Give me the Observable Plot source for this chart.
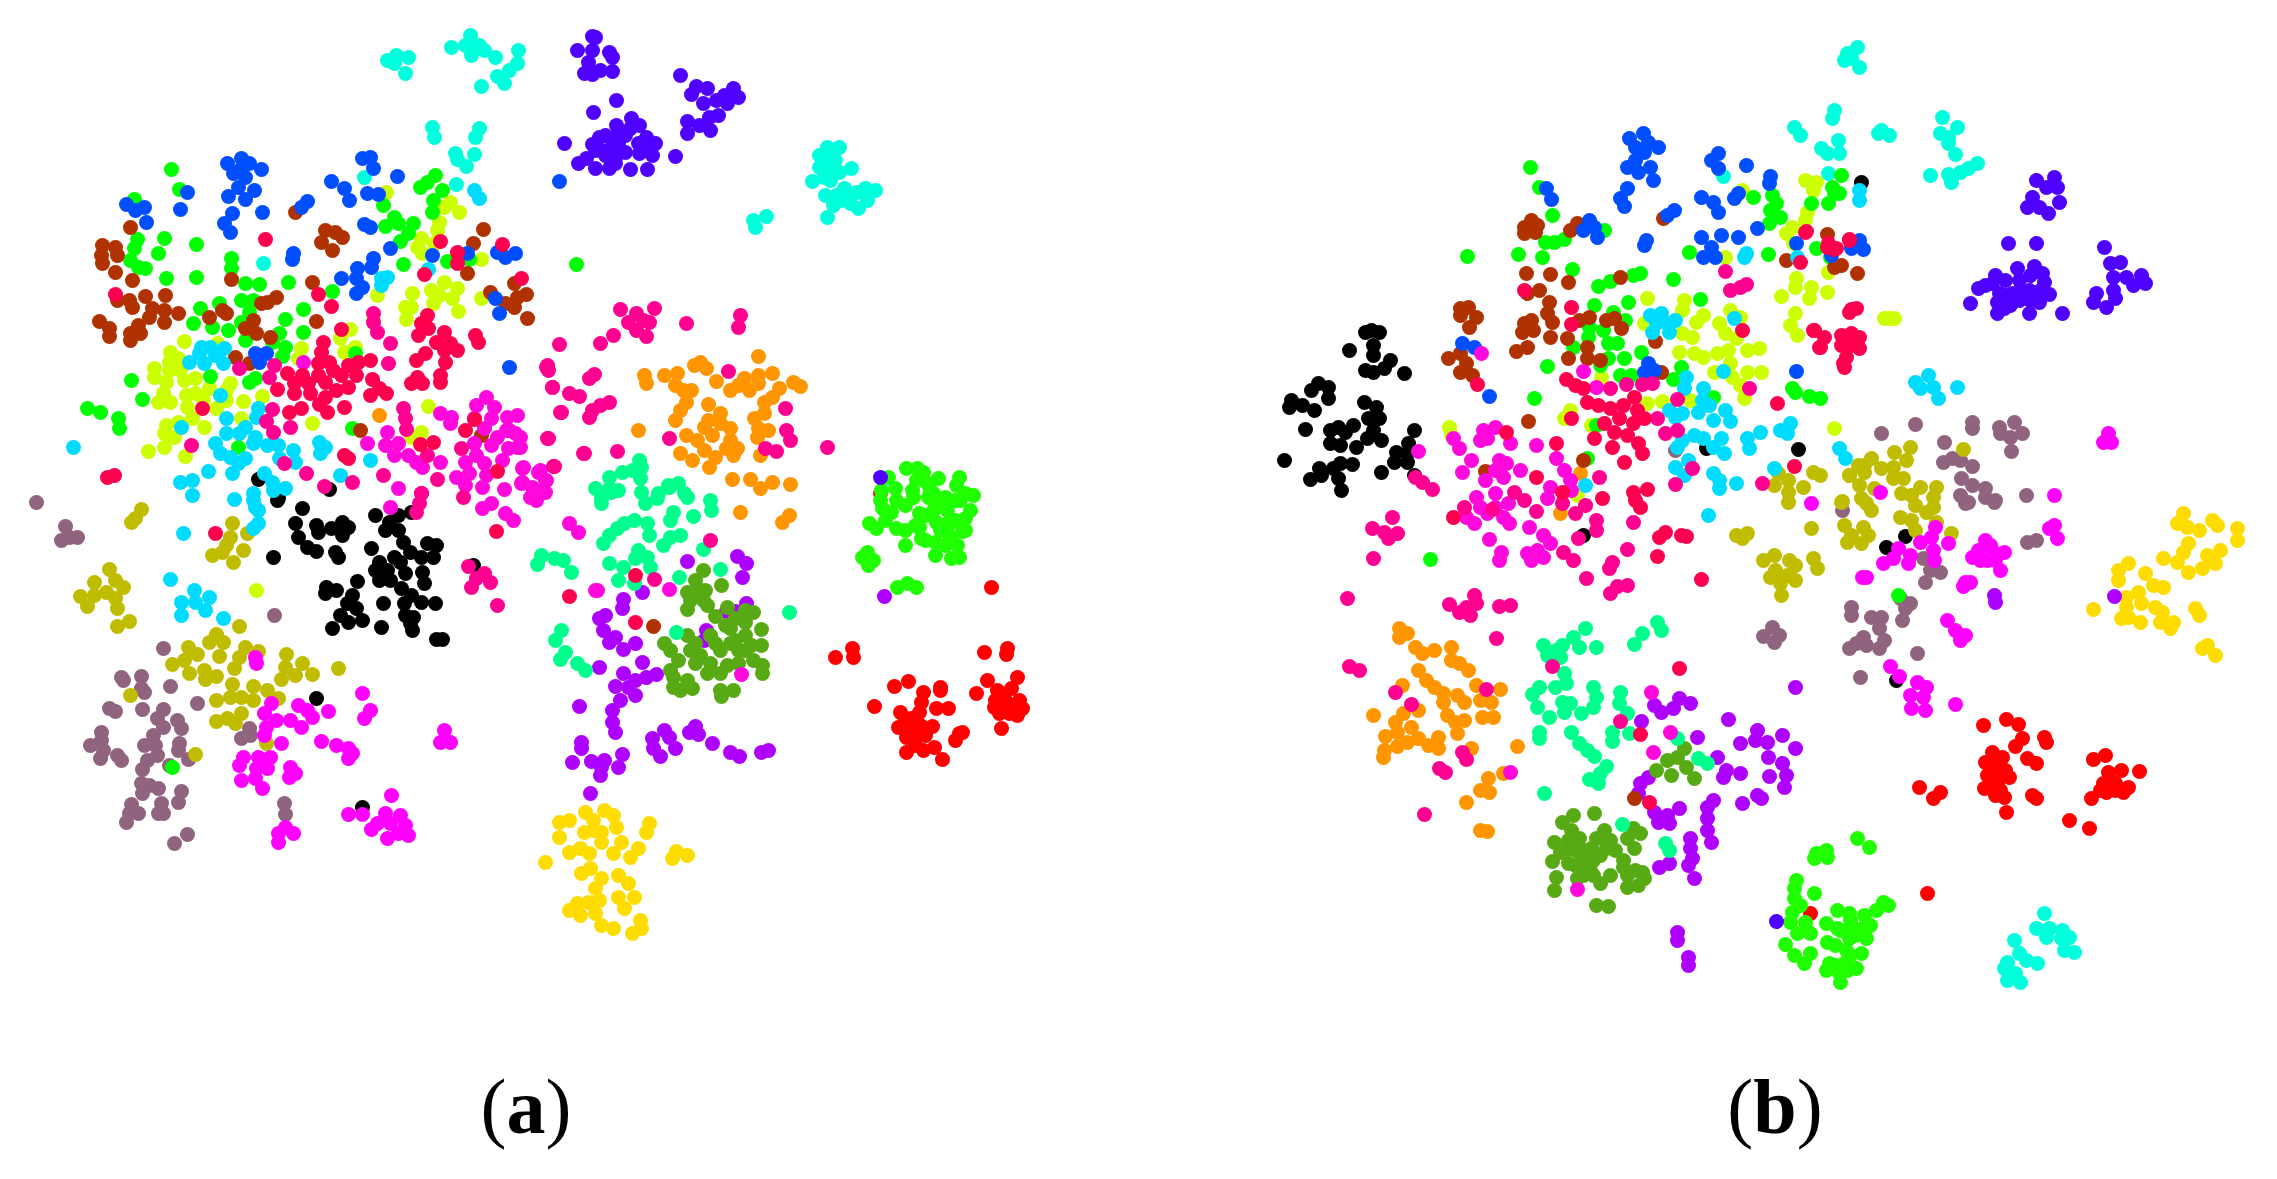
<!DOCTYPE html>
<html><head><meta charset="utf-8">
<script src="https://cdn.jsdelivr.net/npm/d3@7"></script>
<script src="https://cdn.jsdelivr.net/npm/@observablehq/plot@0.6"></script>
<style>
html,body{margin:0;padding:0;background:#fff;width:2277px;height:1179px;overflow:hidden}
#chart{position:absolute;left:0;top:0}
#cap{position:absolute;left:0;top:1050px;width:2277px;height:129px;font-family:"Liberation Serif",serif;font-size:78px;color:#000}
#cap span{position:absolute;top:13px;transform:translateX(-50%);line-height:88px}
</style></head><body><div id="chart"></div><div id="cap"></div>
<script>
const panelLabels = [["a",526],["b",1775]];

// t-SNE embedding values, listed x,y,x,y,... per class
const aBlack=[258,479,329,489,278,498,277,500,302,508,295,523,298,537,307,547,316,551,316,525,318,532,331,528,342,522,348,527,342,535,335,552,338,557,273,557,375,515,398,515,389,522,385,530,398,530,411,512,403,542,371,548,427,543,436,545,410,552,421,557,433,557,394,557,379,562,400,562,375,570,387,570,379,580,390,580,405,573,422,572,424,583,357,581,326,587,325,593,336,590,352,595,347,603,356,608,401,588,411,595,404,603,383,603,421,602,435,603,405,615,413,617,410,623,412,630,340,615,348,622,362,620,332,628,381,627,436,639,442,639,316,698,362,807,473,565];
const aMauve=[36,502,65,526,61,540,77,537,69,537,274,615,163,648,121,677,123,680,141,676,141,688,170,686,144,692,197,703,109,708,115,711,142,709,163,709,157,718,163,727,177,720,181,728,101,732,101,740,90,745,103,750,100,758,117,755,121,760,153,735,144,745,155,745,179,743,178,750,157,755,147,760,142,769,169,765,188,759,249,728,241,738,250,735,141,783,149,785,158,788,142,793,181,791,178,802,161,803,158,813,163,813,131,804,138,813,129,813,126,822,284,803,285,814,187,834,174,843];
const aOlive=[141,509,135,518,131,522,232,523,247,533,230,537,226,545,243,550,212,555,222,552,233,562,109,569,94,582,115,580,123,587,80,596,94,595,106,592,115,598,87,606,117,608,129,621,117,626,239,626,216,634,209,642,223,642,219,656,188,647,197,654,184,660,172,664,245,647,239,657,234,668,258,651,286,654,285,667,302,663,295,675,281,679,312,674,338,668,189,673,204,670,216,676,205,679,232,684,253,686,253,700,216,700,230,697,241,697,267,690,278,698,241,713,227,718,216,721,235,723,130,695,266,743,195,754];
const aMagenta2=[255,657,256,663,271,703,264,713,276,720,266,727,290,720,301,727,264,735,281,743,298,705,307,710,312,717,328,711,362,693,370,710,364,718,321,741,336,745,348,748,352,753,348,758,444,730,440,742,450,742,243,757,258,757,270,757,239,765,256,768,267,768,241,780,255,778,262,788,290,767,295,773,289,777,391,795,348,814,362,814,385,813,400,815,377,823,390,823,405,825,371,829,387,838,398,833,408,835,285,827,278,833,293,833,278,842];
const aRed=[880,493,991,587,852,648,853,657,835,657,984,652,1007,648,1006,654,894,686,908,681,940,687,940,690,923,692,921,702,874,706,900,712,919,712,936,708,948,708,911,718,898,727,908,728,932,726,915,737,906,737,925,735,906,752,923,750,934,747,942,759,959,733,955,740,962,732,987,680,976,693,1017,677,997,690,1011,688,994,707,1005,700,1019,700,1022,708,1009,713,1017,715,1001,728,999,713,910,725,905,720,920,725,915,745,1000,695,1010,705,995,700];
const aLime=[888,477,906,468,917,468,923,472,916,480,938,478,959,477,973,495,927,483,956,485,881,490,895,488,912,490,933,493,965,493,882,508,896,500,913,497,928,497,945,497,960,500,891,512,919,513,933,510,947,510,965,518,869,523,876,528,896,528,919,527,936,522,947,523,962,531,921,538,935,542,950,537,957,545,951,558,959,557,867,552,862,557,873,560,868,565,897,587,907,583,916,587,905,505,915,525,930,490,940,505,955,500,905,530,925,540,940,530,955,520,970,510,885,520,905,545,925,515,945,545,935,555,948,525,965,530,880,500];
const aGold=[559,822,569,820,559,837,585,812,604,810,613,815,593,820,584,832,616,827,601,832,593,830,649,823,646,832,601,842,621,842,569,852,580,848,589,853,613,853,630,857,638,848,545,862,676,851,687,855,672,858,581,873,590,868,601,878,618,875,595,888,628,883,618,897,634,897,599,900,588,902,624,908,577,903,569,910,580,915,595,913,601,925,613,928,640,920,632,933,641,928];
const aIndigo=[592,36,595,37,577,50,592,50,609,52,612,57,588,62,584,73,600,70,612,71,592,74,680,75,696,86,691,94,707,88,733,88,738,97,724,95,703,103,716,100,727,103,718,115,709,117,687,121,687,133,699,125,710,130,616,100,593,112,564,143,631,118,616,125,639,125,599,137,592,144,615,137,630,128,646,137,655,143,611,147,618,143,638,143,601,150,652,155,639,153,625,152,615,157,578,163,586,158,595,168,609,168,615,163,630,169,647,169,675,156,880,477,605,135,612,140,625,135,595,150,605,155,645,150];
const aPurple=[687,561,737,556,746,563,742,577,642,592,623,599,622,608,605,615,599,618,603,630,746,603,735,611,726,611,706,630,704,640,615,637,609,642,623,649,635,643,642,662,656,674,599,667,623,673,646,677,635,680,615,686,628,687,635,695,620,700,579,706,612,710,612,722,615,732,581,742,581,748,572,762,591,761,604,760,600,775,601,767,622,754,618,767,590,793,664,730,669,737,675,748,652,738,653,748,660,756,695,726,689,732,698,734,712,743,730,752,739,756,761,752,768,750,884,596];
const aMoss=[703,570,695,580,687,592,705,590,721,585,687,609,707,605,715,616,727,607,745,610,753,612,735,618,745,622,761,629,730,628,710,635,745,635,687,635,664,643,670,650,695,643,715,643,730,643,761,645,751,645,738,650,678,660,695,663,710,663,727,665,738,663,753,660,762,665,762,673,673,677,707,673,720,673,687,680,673,687,692,688,680,690,720,690,733,690,721,696,703,600,690,600,700,590,735,640,690,650,720,650,700,655,670,670,725,625,745,650];
const aOrange=[379,415,758,356,700,362,706,368,694,365,644,375,646,383,664,375,677,373,675,385,716,381,772,373,744,378,758,375,793,382,800,386,730,390,738,385,749,390,758,383,779,388,772,397,683,390,691,390,686,402,708,404,764,402,680,410,675,420,764,413,754,418,720,413,708,420,704,427,720,423,758,428,768,430,638,430,730,428,712,435,686,435,697,440,730,440,757,437,726,448,737,448,704,450,680,453,715,457,692,460,733,455,760,455,709,467,732,479,750,479,790,484,772,482,760,488,740,512,789,515,782,522];
const aSpring=[639,460,632,470,641,467,622,472,640,478,609,477,595,488,609,488,618,490,601,498,668,485,678,483,684,493,641,492,658,493,710,500,611,492,601,503,645,503,657,498,669,487,687,497,711,510,673,512,693,516,670,520,634,520,624,523,647,523,649,535,617,528,609,535,603,543,680,535,670,537,663,545,638,550,647,557,635,558,650,567,609,563,623,567,618,580,634,583,703,549,720,569,679,577,541,555,537,564,554,558,563,560,571,572,789,612,561,630,555,640,565,652,560,659,577,663,585,670,676,632];
const aAqua=[387,60,396,55,408,57,394,63,405,73,451,47,470,35,465,45,479,45,471,55,484,50,495,57,518,50,517,63,509,70,497,76,504,83,481,86,432,127,434,137,479,128,475,137,455,153,457,159,474,154,466,166,456,184,364,177,263,263,827,147,839,147,819,155,831,157,819,167,831,168,839,172,851,168,812,181,824,177,825,195,836,195,844,188,856,192,865,188,875,190,850,203,858,208,867,200,827,217,833,205,753,220,755,227,766,216,825,160,835,160,830,180,850,195,840,200];
const aYellow=[386,192,450,202,459,212,444,207,439,222,437,230,421,238,417,247,434,243,422,253,481,259,377,295,412,293,444,282,431,290,439,295,411,307,433,303,457,288,452,298,481,298,458,311,405,307,406,319,373,320,350,329,340,338,301,348,298,358,355,347,344,352,184,341,217,343,170,352,178,358,169,362,154,368,154,377,169,370,180,370,166,382,184,380,195,378,230,383,226,390,209,388,195,393,186,395,163,393,158,402,170,402,187,407,203,400,216,408,226,400,243,401,262,396,241,418,312,423,166,425,178,422,192,418,204,427,164,433,174,437,164,447,148,451,185,456,428,406,421,432,411,437,256,590];
const aGreen=[171,169,179,189,134,199,137,239,134,248,130,260,138,267,145,268,164,238,158,253,196,244,231,258,231,268,166,278,196,277,245,283,259,284,288,282,332,291,219,303,200,308,241,300,253,300,249,312,303,309,285,319,193,323,212,327,228,330,241,322,303,332,245,340,279,333,272,342,285,347,282,356,210,376,249,382,255,378,131,380,142,399,87,408,100,412,118,418,119,428,352,428,355,353,238,447,420,187,435,175,427,182,442,190,433,200,432,212,383,205,394,217,385,226,398,223,413,223,408,233,400,241,403,264,447,261,469,259,576,264,172,767];
const aBrown=[295,212,130,227,102,245,115,247,101,255,117,255,102,263,115,272,132,280,335,232,325,230,342,237,321,242,332,250,483,229,473,243,467,273,312,282,231,279,165,295,129,300,117,300,132,307,145,296,152,308,164,310,178,313,164,322,149,317,138,325,99,321,109,328,109,336,130,333,130,340,140,333,267,302,276,297,261,303,222,310,226,313,209,317,316,321,253,320,245,328,256,333,270,337,514,283,526,294,490,292,517,297,505,303,514,307,527,318,235,357,249,363,481,435,360,430,653,626];
const aBlue=[241,158,227,163,261,169,239,170,249,163,233,173,245,177,238,187,254,190,228,196,245,199,232,213,224,223,230,232,262,212,187,192,180,209,126,204,144,207,135,210,146,222,370,157,362,158,373,168,397,176,331,181,344,188,349,200,367,193,378,194,307,201,301,207,364,224,370,227,390,248,293,253,292,259,373,258,371,267,357,268,341,278,356,278,356,293,362,287,432,255,467,253,497,252,505,257,515,253,495,298,499,313,255,353,266,353,259,362,509,367,559,181];
const aCyan=[428,269,381,278,387,277,381,285,474,190,479,198,201,347,210,347,224,348,199,353,215,355,189,362,204,363,223,363,220,395,258,408,256,417,226,418,181,427,245,427,226,433,239,433,255,437,253,443,267,445,278,445,319,442,325,447,320,453,215,443,220,453,230,457,245,458,238,463,232,473,293,450,279,458,295,462,370,460,73,447,208,471,264,473,272,482,285,488,273,490,340,475,180,482,192,480,192,495,253,493,234,499,255,507,258,523,253,500,258,510,253,528,183,533,170,579,194,590,181,602,195,602,209,597,205,610,181,615,223,618];
const aMagenta1=[303,362,486,397,476,405,494,407,474,418,491,418,484,428,440,413,451,417,450,423,517,415,509,430,520,437,497,437,491,445,517,447,387,432,385,445,398,443,394,455,408,455,416,462,422,467,367,443,440,462,474,443,476,455,465,462,484,463,502,460,456,477,469,473,486,475,465,485,482,487,504,489,522,468,540,470,545,480,522,482,534,490,545,492,530,497,536,500,398,488,507,417,506,430,515,433,520,447,508,448,523,467,538,472,521,483,532,487,546,480,542,492,532,497,390,507,482,508,491,503,505,513,513,520,569,523,578,532,597,590,595,590,669,589,741,674];
const aRose=[274,365,239,368,269,377,272,409,266,421,273,432,290,427,191,445,373,313,373,322,377,332,390,343,388,363,403,408,405,418,406,429,427,455,461,448,284,463,306,473,324,486,352,482,383,475,437,479,421,493,463,497,547,438,553,466,583,453,560,412,552,387,546,367,559,344,620,309,636,313,654,308,643,320,628,322,649,322,636,330,646,336,613,335,600,343,686,323,740,315,738,327,547,365,548,370,594,374,589,378,552,387,569,393,579,396,609,402,600,405,592,410,589,417,561,412,548,438,584,453,617,451,669,438,728,371,785,408,786,430,790,440,765,448,776,451,827,447,554,466,421,493,419,503,416,512,468,566,484,573,490,582,471,587,497,605,476,578,710,540,654,579];
const aCrimson=[265,239,440,241,457,252,457,263,502,244,424,274,521,278,318,294,331,306,115,294,341,329,427,315,421,323,428,328,418,335,475,335,478,342,444,332,436,342,450,343,457,350,444,350,425,353,416,360,445,362,440,375,440,382,417,377,411,383,422,383,323,342,321,352,329,362,318,363,370,360,358,362,348,365,287,373,302,375,318,375,333,370,341,375,356,375,372,379,294,383,308,383,325,382,348,387,336,390,277,389,294,393,310,393,325,397,379,388,370,395,386,393,319,404,344,407,301,408,289,412,327,412,202,408,474,419,465,430,433,442,420,444,344,455,348,458,107,477,114,475,497,471,215,533,496,531,569,596,635,575,635,622];

const bBlack=[1371,330,1365,332,1379,332,1349,350,1373,345,1373,355,1390,360,1384,368,1373,372,1365,370,1404,373,1318,383,1311,390,1328,387,1328,398,1291,400,1289,407,1302,405,1314,410,1364,402,1376,407,1379,418,1368,418,1353,425,1338,427,1330,430,1305,429,1345,432,1373,430,1414,430,1330,443,1340,445,1367,438,1381,440,1356,447,1408,443,1396,452,1407,453,1394,462,1407,462,1284,460,1352,464,1340,463,1319,468,1333,468,1381,472,1310,479,1321,475,1338,478,1341,490,1414,475,1706,448,1798,449,1583,535,1861,182,1905,536,1886,547,1896,680];
const bMauve=[1881,433,1915,424,1972,422,1972,428,1999,427,2014,422,2000,433,2022,433,2010,437,2011,451,1944,442,1943,462,1952,458,1960,460,1972,466,1961,478,1972,485,1960,495,1968,502,1985,488,1985,497,1995,500,2026,495,1842,510,1772,627,1763,636,1779,635,1774,642,1851,607,1851,615,1871,617,1881,617,1879,628,1863,637,1856,643,1849,648,1866,645,1884,640,1879,648,1900,598,1910,603,1905,608,1902,620,1917,653,1860,677,1923,558,1930,570,1940,572,1925,582,2036,540,2027,542,1965,503,1994,502,1675,450];
const bOlive=[1778,473,1774,485,1788,480,1788,492,1788,502,1813,472,1820,475,1803,487,1841,502,1849,475,1864,465,1871,458,1858,465,1849,475,1859,485,1864,472,1894,452,1910,447,1906,460,1881,468,1893,467,1893,478,1903,478,1874,488,1861,498,1871,510,1866,503,1901,493,1920,487,1936,487,1911,495,1933,497,1915,505,1933,507,1926,512,1842,501,1963,449,1900,517,1911,520,1811,528,1844,525,1863,527,1851,535,1868,535,1847,542,1861,543,1936,522,1951,533,1915,530,1774,555,1763,560,1789,560,1795,565,1775,570,1787,575,1770,577,1795,580,1780,583,1781,595,1813,558,1817,568,1736,535,1747,533,1742,538];
const bMagenta2=[1880,492,2054,495,1811,503,1935,527,1931,537,1920,542,1948,543,1898,548,1933,550,1910,555,1893,558,1883,563,1908,563,1934,560,1985,540,1978,550,1972,557,1992,550,2004,552,1987,560,2000,570,2054,525,2049,528,2057,538,1862,577,1866,577,1965,582,1970,582,1963,586,1947,620,1955,630,1965,635,1960,640,1890,666,1899,676,1917,682,1926,687,1910,695,1923,697,1911,708,1925,710,1955,704,2108,433,2103,442,2111,442,1990,545,1980,560,1995,560];
const bRed=[1810,913,1927,893,1919,787,1940,792,1933,798,1983,725,2006,719,2018,724,2022,738,2015,746,2044,737,2046,742,1992,752,2002,757,1985,762,1999,763,2027,758,2036,763,1987,775,2009,777,1997,773,1984,788,1997,783,1995,795,2004,797,2032,795,2036,798,2006,812,2069,820,2089,828,2093,759,2105,755,2121,770,2108,772,2139,771,2103,783,2115,783,2128,787,2091,798,2106,792,2123,792,1995,765,2005,770,1990,785,2000,790,2110,780,2115,790,2100,790];
const bLime=[1816,853,1826,850,1814,858,1827,857,1857,838,1869,847,1796,880,1794,888,1814,893,1794,898,1792,912,1790,922,1797,933,1805,922,1810,933,1826,923,1837,910,1849,913,1864,915,1876,910,1883,902,1888,905,1837,928,1851,925,1864,927,1866,938,1849,938,1827,942,1785,944,1810,953,1794,955,1804,963,1846,950,1861,953,1829,963,1844,963,1826,970,1856,968,1839,973,1840,982,1847,970,1850,955,1855,935,1840,930,1870,925,1835,945,1850,920,1835,965,1800,905];
const bGold=[2183,513,2177,523,2187,527,2199,530,2212,520,2217,525,2237,528,2237,540,2188,543,2183,552,2163,558,2177,562,2188,572,2202,568,2207,555,2220,550,2215,563,2118,570,2128,563,2118,580,2145,573,2153,585,2163,587,2138,592,2093,609,2126,597,2126,607,2141,603,2155,607,2162,612,2121,618,2140,622,2128,617,2160,622,2173,622,2170,628,2195,608,2199,615,2207,645,2202,648,2215,655];
const bIndigo=[2036,180,2054,177,2046,187,2057,187,2032,197,2027,207,2059,202,2039,207,2048,213,2008,243,2036,243,2104,247,1995,275,2017,268,2034,266,2042,273,1978,288,1992,283,2005,280,2019,280,2044,282,1999,293,2012,293,2029,290,2049,294,1997,302,2019,300,2039,302,1970,303,1997,313,2004,308,2029,313,2062,313,2110,263,2120,262,2113,277,2126,277,2141,275,2145,283,2133,285,2113,290,2096,293,2093,302,2106,307,2115,298,1776,921,2005,295,2020,290,2040,290,2010,305,2030,300,1985,285,2030,275];
const bPurple=[1654,705,1661,712,1679,698,1673,708,1690,703,1641,721,1728,719,1795,687,1697,737,1717,757,1757,730,1740,743,1755,740,1767,742,1782,735,1795,748,1768,757,1782,763,1769,776,1786,775,1784,787,1726,770,1723,777,1740,773,1757,795,1742,803,1761,798,1648,777,1640,783,1638,793,1713,800,1707,807,1679,808,1654,812,1667,815,1658,822,1669,823,1707,818,1707,830,1690,838,1711,842,1690,848,1692,858,1669,863,1659,867,1688,865,1694,878,1677,932,1677,940,1688,957,1688,965,1994,595,1995,602,2114,596];
const bMoss=[1684,748,1677,757,1667,760,1656,770,1671,775,1686,767,1694,778,1594,813,1573,815,1562,822,1571,830,1633,828,1640,833,1604,830,1596,838,1554,842,1568,840,1579,838,1610,840,1627,838,1634,848,1560,852,1575,850,1591,848,1606,848,1552,861,1568,863,1583,860,1593,860,1623,860,1623,867,1583,875,1593,875,1600,883,1610,875,1642,872,1627,875,1644,878,1627,887,1638,885,1556,877,1554,890,1577,878,1596,905,1608,906,1585,850,1600,855,1575,865,1590,870,1615,850,1565,850,1635,870];
const bOrange=[1399,628,1407,633,1399,637,1415,647,1422,653,1434,650,1451,647,1451,660,1459,663,1468,670,1418,670,1426,680,1434,687,1402,685,1443,693,1457,695,1476,685,1443,702,1464,702,1480,700,1491,702,1500,689,1482,717,1493,717,1447,715,1464,720,1455,722,1457,733,1418,710,1403,713,1395,722,1411,727,1397,732,1373,715,1385,736,1418,738,1407,742,1397,746,1438,737,1428,745,1438,748,1384,750,1383,757,1471,748,1517,746,1503,773,1488,778,1480,790,1489,792,1466,802,1480,830,1487,831,1580,473,1560,513];
const bSpring=[1543,645,1562,645,1547,655,1556,650,1560,657,1585,628,1573,637,1579,647,1596,647,1657,622,1642,633,1661,630,1634,644,1564,673,1566,683,1555,687,1539,687,1532,694,1537,707,1562,702,1570,703,1564,712,1549,717,1593,687,1596,697,1593,707,1581,713,1620,692,1619,703,1627,713,1539,732,1539,738,1571,732,1579,743,1587,750,1594,756,1612,732,1612,741,1629,733,1677,738,1606,766,1600,773,1589,779,1598,783,1544,793,1622,824,1665,843,1669,850,1698,758,1707,763];
const bAqua=[1857,47,1847,53,1844,60,1859,67,1851,58,1834,110,1832,118,1794,127,1800,135,1821,148,1838,140,1827,153,1839,153,1881,130,1878,133,1889,135,1942,117,1957,127,1940,133,1948,137,1948,143,1955,154,1930,175,1948,174,1951,182,1960,172,1968,168,1977,163,1828,173,1723,176,2044,913,2036,928,2049,928,2062,930,2046,937,2061,938,2069,937,2074,952,2064,950,2014,940,2019,953,2007,962,2037,963,2026,960,2004,968,2015,973,2007,980,2020,982];
const bYellow=[1742,190,1725,257,1805,180,1816,182,1813,190,1807,212,1805,220,1792,227,1786,233,1793,243,1828,272,1796,278,1795,287,1811,287,1781,296,1827,292,1809,298,1647,298,1684,300,1682,310,1795,313,1790,325,1797,335,1703,315,1730,310,1740,317,1696,322,1719,323,1682,333,1692,337,1725,333,1736,338,1679,352,1694,353,1703,357,1717,353,1728,350,1747,350,1759,348,1730,363,1714,372,1761,372,1747,372,1732,377,1740,385,1744,398,1647,403,1662,401,1570,410,1564,418,1591,425,1690,400,1449,427,1451,435,1601,377,1834,428,1577,495,1644,323,1889,318,1884,318,1894,318];
const bGreen=[1530,167,1539,187,1552,215,1604,230,1467,256,1518,254,1545,242,1542,257,1554,242,1564,239,1572,269,1689,252,1768,254,1753,197,1772,195,1776,203,1770,210,1780,217,1769,223,1811,203,1828,203,1834,193,1841,175,1816,248,1830,257,1673,279,1640,273,1633,275,1610,281,1598,286,1628,302,1700,299,1594,305,1613,312,1625,320,1589,327,1603,330,1588,337,1608,343,1617,343,1573,347,1641,352,1624,358,1608,358,1600,365,1547,366,1620,375,1631,375,1681,367,1673,379,1534,398,1713,397,1596,425,1587,458,1792,388,1795,392,1809,396,1820,398,1832,187,1839,193,1430,559,1898,595];
const bBrown=[1663,218,1531,220,1524,227,1537,225,1524,233,1535,232,1570,230,1577,223,1526,273,1550,274,1568,282,1620,277,1539,290,1527,293,1549,302,1547,313,1460,308,1468,307,1476,317,1460,315,1469,327,1589,317,1579,320,1606,320,1614,318,1621,328,1524,323,1531,320,1552,322,1522,332,1533,330,1550,337,1567,338,1655,341,1527,347,1516,351,1587,347,1568,358,1587,358,1600,360,1448,358,1460,353,1466,363,1460,372,1472,375,1661,372,1528,421,1485,471,1583,460,1827,234,1786,260,1841,265,1834,267,1857,273,1634,798];
const bBlue=[1643,133,1629,138,1648,142,1658,147,1635,147,1644,152,1635,160,1627,167,1650,167,1638,172,1653,180,1718,153,1711,160,1718,168,1746,165,1770,176,1769,183,1546,188,1551,199,1627,188,1620,198,1624,206,1701,197,1713,202,1718,212,1734,198,1738,193,1674,210,1667,215,1757,228,1589,220,1583,230,1594,227,1597,237,1646,240,1644,245,1701,237,1721,235,1738,237,1711,247,1703,257,1715,257,1796,243,1831,255,1462,343,1474,347,1648,363,1644,372,1654,370,1489,396,1796,371,1859,240,1851,248,1863,249];
const bCyan=[1723,371,1686,377,1684,388,1703,388,1650,315,1661,313,1675,320,1656,323,1667,323,1652,332,1669,332,1734,318,1746,253,1744,257,1797,257,1669,410,1702,400,1709,405,1725,410,1682,413,1675,417,1698,412,1713,420,1730,421,1694,435,1703,438,1682,440,1721,438,1677,447,1713,447,1724,453,1760,432,1747,438,1749,448,1790,423,1780,430,1787,433,1688,460,1675,467,1684,475,1713,473,1719,480,1719,488,1736,483,1585,485,1774,468,1839,448,1845,458,1708,515,1859,190,1859,200,1915,382,1928,375,1920,388,1933,387,1938,398,1957,387];
const bMagenta1=[1583,371,1596,387,1481,353,1418,451,1453,438,1459,448,1483,430,1495,427,1487,438,1480,440,1510,443,1536,445,1471,460,1462,472,1499,460,1495,470,1506,463,1520,470,1503,477,1485,480,1556,458,1564,470,1570,480,1550,487,1571,490,1547,498,1495,493,1476,497,1480,507,1495,507,1508,503,1466,517,1487,513,1503,517,1474,523,1509,523,1489,539,1501,552,1499,560,1529,527,1543,535,1550,543,1527,553,1537,550,1531,560,1543,557,1653,752,1651,692,1510,772,1577,889,1670,732];
const bRose=[1725,271,1746,284,1740,287,1730,290,1610,388,1626,384,1642,384,1652,383,1677,399,1657,418,1677,430,1665,433,1692,468,1675,484,1749,388,1762,483,1599,477,1415,477,1422,482,1432,489,1514,492,1524,500,1464,507,1492,509,1562,503,1585,505,1575,513,1536,511,1633,522,1392,517,1372,528,1384,532,1397,533,1388,538,1373,558,1347,598,1474,595,1449,604,1466,607,1476,603,1459,612,1470,615,1499,606,1510,605,1496,638,1349,666,1359,670,1596,520,1596,530,1627,549,1612,562,1609,568,1586,578,1573,560,1563,552,1578,538,1627,585,1617,586,1610,593,1552,666,1395,692,1486,689,1411,704,1462,752,1466,759,1439,768,1445,772,1424,814,1620,721];
const bCrimson=[1806,231,1828,243,1836,248,1849,240,1800,262,1571,307,1571,324,1742,330,1524,290,1813,330,1824,337,1820,347,1843,343,1843,363,1849,312,1477,384,1566,379,1575,385,1583,388,1587,402,1598,405,1610,408,1634,397,1623,405,1637,410,1644,418,1619,418,1604,423,1633,423,1614,432,1627,435,1594,438,1638,443,1612,447,1642,453,1624,462,1571,418,1506,432,1556,443,1777,403,1794,466,1536,477,1633,492,1647,489,1635,500,1640,507,1602,498,1562,492,1453,517,1851,309,1856,308,1814,330,1819,347,1841,335,1851,333,1859,337,1841,345,1851,345,1859,348,1846,357,1844,367,1849,239,1827,247,1834,249,1805,232,1665,532,1659,537,1681,535,1686,536,1657,556,1701,579,1679,668,1640,734,1649,802];

const classNames=["black","mauve","olive","magenta2","red","lime","gold","indigo","purple","moss","orange","spring","aqua","yellow","green","brown","blue","cyan","magenta1","rose","crimson"];
const classColors=["#000000","#90647f","#c0bc00","#ff00ff","#ff0000","#20ff00","#ffdc00","#5000ff","#ae00ff","#58aa14","#ff9600","#00ff8c","#00ffdc","#ccff00","#00ff00","#b03200","#004eff","#00dcff","#ff08dc","#ff0090","#ff004e"];
const seriesA={black:aBlack,mauve:aMauve,olive:aOlive,magenta2:aMagenta2,red:aRed,lime:aLime,gold:aGold,indigo:aIndigo,purple:aPurple,moss:aMoss,orange:aOrange,spring:aSpring,aqua:aAqua,yellow:aYellow,green:aGreen,brown:aBrown,blue:aBlue,cyan:aCyan,magenta1:aMagenta1,rose:aRose,crimson:aCrimson};
const seriesB={black:bBlack,mauve:bMauve,olive:bOlive,magenta2:bMagenta2,red:bRed,lime:bLime,gold:bGold,indigo:bIndigo,purple:bPurple,moss:bMoss,orange:bOrange,spring:bSpring,aqua:bAqua,yellow:bYellow,green:bGreen,brown:bBrown,blue:bBlue,cyan:bCyan,magenta1:bMagenta1,rose:bRose,crimson:bCrimson};

const rows=[];
for(const name of classNames){
  for(const s of [seriesA,seriesB]){
    const v=s[name];
    for(let i=0;i<v.length;i+=2) rows.push({x:v[i],y:v[i+1],cls:name});
  }
}
const plot=Plot.plot({
  width:2277,height:1050,margin:0,
  style:{background:"#fff"},
  x:{domain:[0,2277],axis:null},
  y:{domain:[1050,0],axis:null},
  color:{type:"ordinal",domain:classNames,range:classColors},
  marks:[Plot.dot(rows,{x:"x",y:"y",r:7.5,fill:"cls",stroke:"none"})]
});
document.getElementById("chart").append(plot);
const cap=document.getElementById("cap");
for(const [t,cx] of panelLabels){
  const s=document.createElement("span");
  s.style.left=cx+"px";
  s.append("(");
  const b=document.createElement("b"); b.textContent=t; s.append(b);
  s.append(")");
  cap.append(s);
}
</script></body></html>
